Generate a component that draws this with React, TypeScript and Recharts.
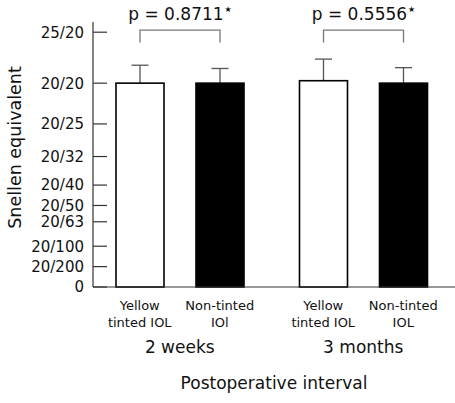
import { BarChart, Bar, XAxis, YAxis, Label } from "recharts"

const groups = ["2 weeks", "3 months"]
const yellowLabels = ["Yellow tinted IOL", "Yellow tinted IOL"]
const clearLabels = ["Non-tinted IOl", "Non-tinted IOL"]
const yellowMeans = [1.0, 1.012]
const yellowSD = [0.088, 0.106]
const clearMeans = [1.0, 1.0]
const clearSD = [0.072, 0.076]
const pValues = ["0.8711", "0.5556"]
const yTicks = [0, 0.1, 0.2, 0.32, 0.4, 0.5, 0.64, 0.8, 1.0, 1.25]
const yTickLabels = ["0", "20/200", "20/100", "20/63", "20/50", "20/40", "20/32", "20/25", "20/20", "25/20"]

const FONT = "DejaVu Sans"
const BAR_SIZE = 48
const BAR_GAP = 32

const data = groups.map((g, i) => ({
  group: g,
  yellow: yellowMeans[i],
  yellowErr: yellowSD[i],
  clear: clearMeans[i],
  clearErr: clearSD[i],
  p: pValues[i],
  labels: [yellowLabels[i], clearLabels[i]],
}))

// bar + upward error bar (+ bracket with p value for the first bar of a group)
function makeShape(meanKey: string, errKey: string, withBracket: boolean) {
  return (props: any) => {
    const { x, y, width, height, fill, payload } = props
    const v = payload[meanKey]
    const ppu = height / v
    const cx = x + width / 2
    const errY = y - payload[errKey] * ppu
    const base = y + height
    const bracketTop = base - 1.26 * ppu
    const bracketLeg = base - 1.2 * ppu
    const cx2 = cx + width + BAR_GAP
    return (
      <g>
        <line x1={cx} x2={cx} y1={y} y2={errY} stroke="#555" strokeWidth={1.3} />
        <line x1={cx - 8.5} x2={cx + 8.5} y1={errY} y2={errY} stroke="#555" strokeWidth={1.3} />
        <rect x={x} y={y} width={width} height={height} fill={fill} stroke="#000" strokeWidth={1.6} />
        {withBracket && (
          <g>
            <path
              d={`M${cx},${bracketLeg} V${bracketTop} H${cx2} V${bracketLeg}`}
              fill="none"
              stroke="#777"
              strokeWidth={1.3}
            />
            <text
              x={(cx + cx2) / 2}
              y={base - 1.31 * ppu}
              textAnchor="middle"
              fontFamily={FONT}
              fontSize={17}
              fill="#111"
            >
              p = {payload.p}
              <tspan fontSize={8} dy={-8} dx={1}>
                ★
              </tspan>
            </text>
          </g>
        )}
      </g>
    )
  }
}

function YTick(props: any) {
  const { x, y, payload } = props
  const idx = yTicks.indexOf(payload.value)
  return (
    <g>
      <line x1={x} x2={x + 14} y1={y} y2={y} stroke="#333" strokeWidth={1.2} />
      <text x={x - 9} y={y} dy="0.36em" textAnchor="end" fontFamily={FONT} fontSize={15} fill="#111">
        {yTickLabels[idx]}
      </text>
    </g>
  )
}

function XTick(props: any) {
  const { x, y, payload, index } = props
  const row = data[index] ?? data.find((d) => d.group === payload.value)
  const off = (BAR_SIZE + BAR_GAP) / 2
  return (
    <g fontFamily={FONT} fill="#111">
      {row.labels.map((lab: string, i: number) => {
        const sp = lab.indexOf(" ")
        const cx = x + (i === 0 ? -off : off)
        return (
          <text key={i} x={cx} y={y} textAnchor="middle" fontSize={13}>
            <tspan x={cx} dy={22.5}>
              {lab.slice(0, sp)}
            </tspan>
            <tspan x={cx} dy={17}>
              {lab.slice(sp + 1)}
            </tspan>
          </text>
        )
      })}
      <text x={x} y={y + 66} textAnchor="middle" fontSize={17}>
        {payload.value}
      </text>
    </g>
  )
}

export default function App() {
  return (
    <div style={{ position: "absolute", left: 0, top: 0, width: 455, height: 403, background: "#fff" }}>
      <BarChart
        width={455}
        height={403}
        data={data}
        margin={{ top: 22, right: 0, bottom: 0, left: 0 }}
        barGap={BAR_GAP}
      >
        <XAxis
          dataKey="group"
          height={116}
          padding={{ left: -5, right: 0 }}
          axisLine={{ stroke: "#333", strokeWidth: 1.2 }}
          tickLine={false}
          tickSize={0}
          tickMargin={0}
          tick={<XTick />}
          interval={0}
        >
          <Label
            value="Postoperative interval"
            position="insideBottom"
            offset={14}
            fontFamily={FONT}
            fontSize={17}
            fill="#111"
          />
        </XAxis>
        <YAxis
          width={93}
          domain={[0, 1.3]}
          ticks={yTicks}
          interval={0}
          axisLine={{ stroke: "#333", strokeWidth: 1.2 }}
          tickLine={false}
          tickSize={0}
          tickMargin={0}
          tick={<YTick />}
        >
          <Label
            content={() => (
              <text
                x={21}
                y={147.5}
                transform="rotate(-90 21 147.5)"
                textAnchor="middle"
                fontFamily={FONT}
                fontSize={17.5}
                fill="#111"
              >
                Snellen equivalent
              </text>
            )}
          />
        </YAxis>
        <Bar
          dataKey="yellow"
          fill="#fff"
          barSize={BAR_SIZE}
          isAnimationActive={false}
          shape={makeShape("yellow", "yellowErr", true)}
        />
        <Bar
          dataKey="clear"
          fill="#000"
          barSize={BAR_SIZE}
          isAnimationActive={false}
          shape={makeShape("clear", "clearErr", false)}
        />
      </BarChart>
    </div>
  )
}
